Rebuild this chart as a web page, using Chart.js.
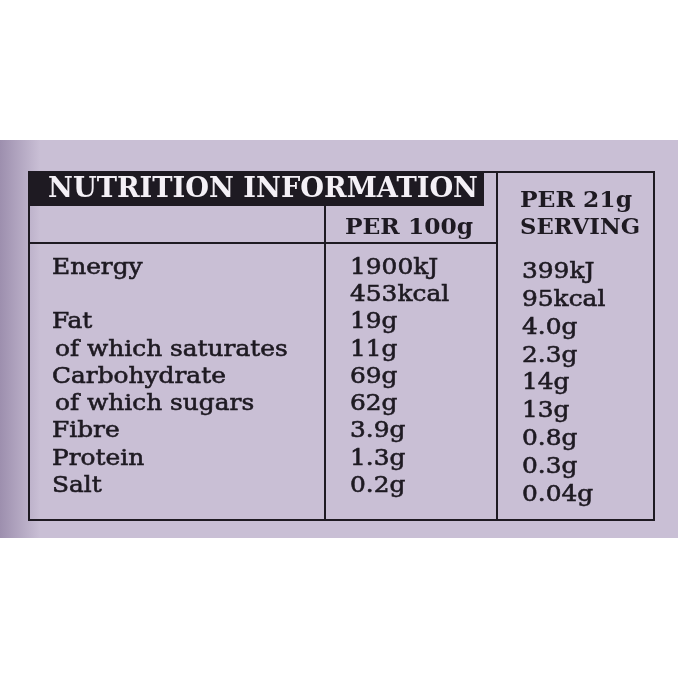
<!DOCTYPE html>
<html>
<head>
<meta charset="utf-8">
<script src="https://cdn.jsdelivr.net/npm/chart.js@4"></script>
<style>
  html, body { margin: 0; padding: 0; background: #fff; }
  #wrap { width: 678px; height: 678px; }
</style>
</head>
<body>
<div id="wrap"><canvas id="label" width="678" height="678"></canvas></div>
<script>
const title = 'NUTRITION INFORMATION';
const colHeads = ['PER 100g', 'PER 21g', 'SERVING'];
const nutrients = ['Energy', '', 'Fat', 'of which saturates', 'Carbohydrate', 'of which sugars', 'Fibre', 'Protein', 'Salt'];
const per100g = ['1900kJ', '453kcal', '19g', '11g', '69g', '62g', '3.9g', '1.3g', '0.2g'];
const perServing = ['399kJ', '95kcal', '4.0g', '2.3g', '14g', '13g', '0.8g', '0.3g', '0.04g'];

const ink = '#1e1a22';
const font = '"DejaVu Serif", serif';

// fits text to a target width so the slab face matches the printed widths
const fitText = (c, s, x, y, w) => {
  const m = c.measureText(s).width;
  c.save();
  c.translate(x, y);
  c.scale(w / m, 1);
  c.fillText(s, 0, 0);
  c.restore();
};

// body text: widened a little and thickened with a thin stroke
const bodyText = (c, s, x, y) => {
  c.save();
  c.translate(x, y);
  c.scale(1.08, 1);
  c.fillText(s, 0, 0);
  c.strokeText(s, 0, 0);
  c.restore();
};

const labelPlugin = {
  id: 'labelPlugin',
  beforeDraw: chart => {
    const c = chart.ctx;
    c.save();
    c.fillStyle = '#fff';
    c.fillRect(0, 0, 678, 678);
    const g = c.createLinearGradient(0, 0, 40, 0);
    g.addColorStop(0, '#9d8fae');
    g.addColorStop(1, '#c9bfd5');
    c.fillStyle = '#c9bfd5';
    c.fillRect(0, 140, 678, 398);
    c.fillStyle = g;
    c.fillRect(0, 140, 40, 398);
    c.restore();
  },
  afterDraw: chart => {
    const c = chart.ctx;
    const y = chart.scales.y;
    c.save();
    c.strokeStyle = ink;
    c.lineWidth = 2;
    c.strokeRect(29, 172, 625, 348);
    c.beginPath();
    c.moveTo(325, 205); c.lineTo(325, 520);
    c.moveTo(497, 172); c.lineTo(497, 520);
    c.moveTo(29, 243); c.lineTo(497, 243);
    c.stroke();
    c.fillStyle = ink;
    c.fillRect(29, 172, 455, 34);
    c.fillStyle = '#f4f0f6';
    c.textBaseline = 'middle';
    c.font = 'bold 27px ' + font;
    fitText(c, title, 48, 190, 430);
    c.fillStyle = ink;
    c.font = 'bold 22px ' + font;
    fitText(c, colHeads[0], 345, 228, 128);
    fitText(c, colHeads[1], 520, 201, 112);
    fitText(c, colHeads[2], 520, 228, 120);
    c.font = '23px ' + font;
    c.lineWidth = 0.6;
    nutrients.forEach((n, i) => {
      const py = y.getPixelForValue(i);
      const indent = n.startsWith('of which') ? 55 : 52;
      if (n) bodyText(c, n, indent, py);
      bodyText(c, per100g[i], 350, py);
      bodyText(c, perServing[i], 522, py + 4 + i * 0.6);
    });
    c.restore();
  }
};

new Chart(document.getElementById('label'), {
  type: 'line',
  data: { labels: nutrients.map((_, i) => i), datasets: [{ data: [], showLine: false }] },
  options: {
    responsive: false,
    animation: false,
    events: [],
    layout: { padding: { top: 268, bottom: 678 - 486, left: 0, right: 0 } },
    plugins: { legend: { display: false }, tooltip: { enabled: false } },
    scales: {
      x: { display: false },
      y: { display: false, min: 0, max: nutrients.length - 1, reverse: true }
    }
  },
  plugins: [labelPlugin]
});
</script>
</body>
</html>
